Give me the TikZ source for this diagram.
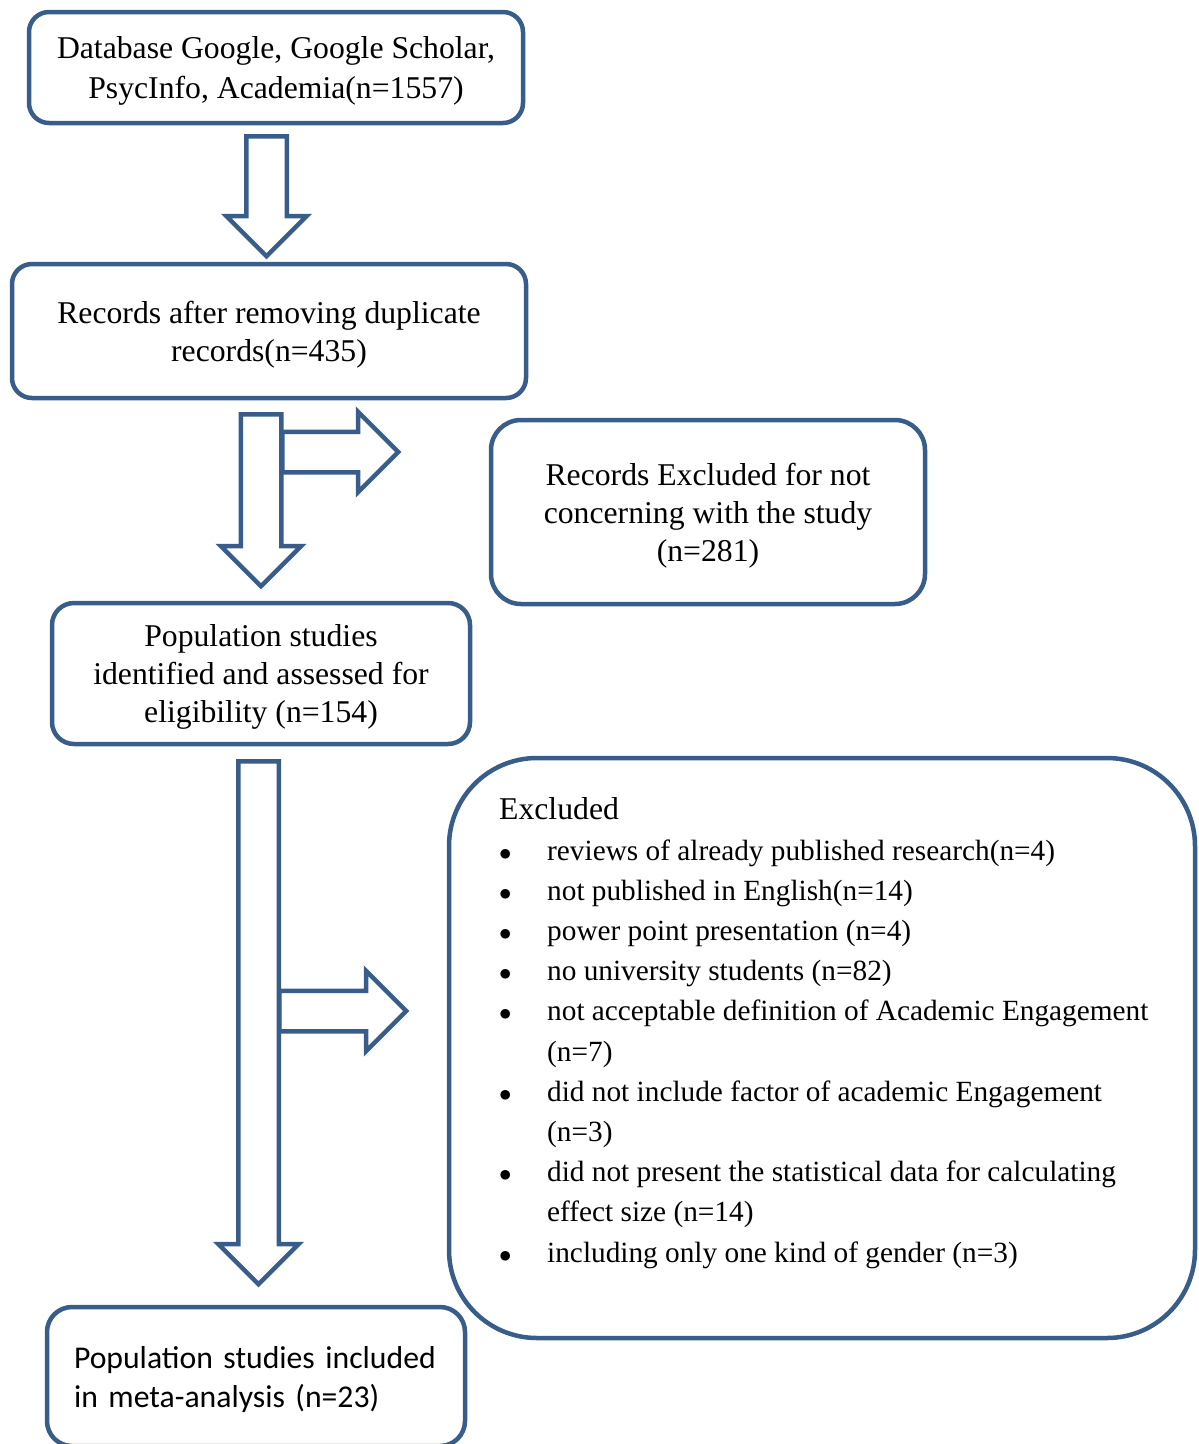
\documentclass[tikz,border=0pt]{standalone}
\usepackage{fontspec}
\setmainfont{Liberation Serif}
\newfontfamily\calibrifont{Carlito}
\usetikzlibrary{shapes.arrows}
\definecolor{boxblue}{RGB}{56,93,138}

\begin{document}
\begin{tikzpicture}[x=1pt,y=-1pt,
  flowbox/.style={draw=boxblue, line width=4.5pt, rounded corners=#1, inner sep=0pt,
    align=center, text depth=0pt, font=\fontsize{31.7}{38}\selectfont},
  flowbox/.default=20pt,
  blockarrow/.style={draw=boxblue, line width=4.5pt, single arrow, single arrow head extend=20pt,
    inner xsep=0pt, inner ysep=18pt, minimum width=0pt, minimum height=#1, line join=miter,
    anchor=tail}]
\useasboundingbox (0,0) rectangle (1199,1444);
\clip (0,0) rectangle (1199,1444);
% Boxes of the flow
\node[flowbox, minimum width=494pt, minimum height=111pt] (dbsearch) at (276,67.5)
  {Database Google, Google Scholar,\\[2pt]PsycInfo, Academia(n=1557)};
\node[flowbox, minimum width=514pt, minimum height=134pt] (dedup) at (269,331)
  {Records after removing duplicate\\records(n=435)};
\node[flowbox=30pt, minimum width=434pt, minimum height=184pt] (notrelevant) at (708,512)
  {Records Excluded for not\\concerning with the study\\(n=281)};
\node[flowbox=22pt, minimum width=418pt, minimum height=141pt] (eligible) at (261,673.5)
  {Population studies\\identified and assessed for\\eligibility (n=154)};
\node[flowbox=88pt, minimum width=746pt, minimum height=580pt] (excluded) at (822,1048) {};
\node[flowbox=25pt, minimum width=418pt, minimum height=139pt, text width=364pt, align=left,
  text depth=38pt, font=\calibrifont\fontsize{31.7}{39}\selectfont] (included) at (256,1376.5)
  {Population studies included in meta-analysis (n=23)};
% Reasons of exclusion
\node[anchor=west, inner sep=0pt, font=\fontsize{29.3}{40.2}\selectfont] (reasons) at (499,1033)
  {\begin{tabular}{@{}p{48pt}@{}l@{}}
   \multicolumn{2}{@{}l@{}}{\fontsize{31.7}{38}\selectfont Excluded}\\
   $\bullet$ & reviews of already published research(n=4)\\
   $\bullet$ & not published in English(n=14)\\
   $\bullet$ & power point presentation (n=4)\\
   $\bullet$ & no university students (n=82)\\
   $\bullet$ & not acceptable definition of Academic Engagement\\
    & (n=7)\\
   $\bullet$ & did not include factor of academic Engagement\\
    & (n=3)\\
   $\bullet$ & did not present the statistical data for calculating\\
    & effect size (n=14)\\
   $\bullet$ & including only one kind of gender (n=3)
   \end{tabular}};
% Block arrows
\node[blockarrow=120pt, rotate=-90] (down1) at (266.5,134) {};
\node[blockarrow=116pt] (side1) at (280,452) {};
\node[blockarrow=172pt, rotate=-90] (down2) at (261,412) {};
\node[blockarrow=127pt] (side2) at (277,1011) {};
\node[blockarrow=523pt, rotate=-90] (down3) at (258.5,759) {};
\end{tikzpicture}
\end{document}
